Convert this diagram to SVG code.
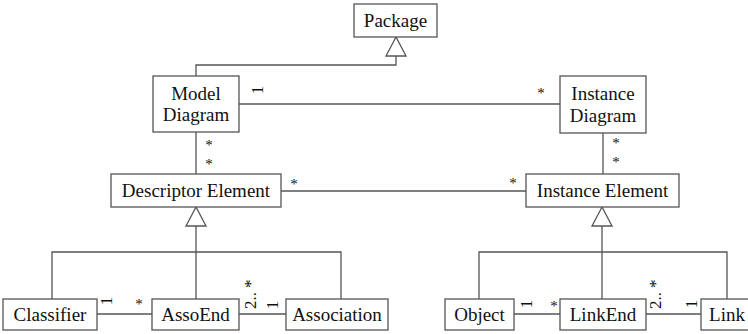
<svg xmlns="http://www.w3.org/2000/svg" width="748" height="334" viewBox="0 0 748 334">
<style>
.box{fill:#fff;stroke:#555;stroke-width:1.3}
.lbl{font-family:"Liberation Serif","Times New Roman",serif;font-size:19px;fill:#111;text-anchor:middle}
.m{font-family:"Liberation Serif","Times New Roman",serif;font-size:15px;fill:#111}
.r{font-size:17px}
.c{text-anchor:middle}
.ln{fill:none;stroke:#555;stroke-width:1.3}
.tri{fill:#fff;stroke:#555;stroke-width:1.3}
</style>
<rect width="748" height="334" fill="#fff"/>
<g id="connectors">
<polyline class="ln" points="196,76 196,65 396,65 396,56"/>
<polygon class="tri" points="396,37 386,56 406,56"/>
<line class="ln" x1="239" y1="104" x2="560" y2="104"/>
<line class="ln" x1="196" y1="132" x2="196" y2="174"/>
<line class="ln" x1="603" y1="133" x2="603" y2="174"/>
<line class="ln" x1="281" y1="191" x2="526" y2="191"/>
<line class="ln" x1="196" y1="226" x2="196" y2="299"/>
<polyline class="ln" points="52,299 52,252 341,252 341,299"/>
<polygon class="tri" points="196,207 186,226 206,226"/>
<line class="ln" x1="602" y1="226" x2="602" y2="299"/>
<polyline class="ln" points="479,299 479,252 727,252 727,299"/>
<polygon class="tri" points="602,207 592,226 612,226"/>
<line class="ln" x1="97" y1="314" x2="152" y2="314"/>
<line class="ln" x1="239" y1="314" x2="286" y2="314"/>
<line class="ln" x1="514" y1="314" x2="560" y2="314"/>
<line class="ln" x1="646" y1="314" x2="701" y2="314"/>
<g class="m">
<text class="c r" transform="translate(263,90) rotate(-90)">1</text>
<text class="c" x="541" y="98">*</text>
<text class="c" x="209" y="150">*</text>
<text class="c" x="209" y="169">*</text>
<text class="c" x="616" y="148">*</text>
<text class="c" x="616" y="167">*</text>
<text class="c" x="294" y="189">*</text>
<text class="c" x="513" y="188">*</text>
<text class="c r" transform="translate(112,301) rotate(-90)">1</text>
<text class="c" x="139" y="309">*</text>
<text class="r" transform="translate(256,309) rotate(-90)">2..<tspan dx="4">*</tspan></text>
<text class="c r" transform="translate(278,305) rotate(-90)">1</text>
<text class="c r" transform="translate(532,304) rotate(-90)">1</text>
<text class="c" x="554" y="311">*</text>
<text class="r" transform="translate(661,309) rotate(-90)">2..<tspan dx="4">*</tspan></text>
<text class="c r" transform="translate(697,304) rotate(-90)">1</text>
</g>
</g>
<g id="package"><rect class="box" x="354" y="4" width="83" height="33"/><text class="lbl" x="395.5" y="27">Package</text></g>
<g id="model-diagram"><rect class="box" x="153" y="76" width="86" height="56"/><text class="lbl" x="196" y="100">Model</text><text class="lbl" x="196" y="121">Diagram</text></g>
<g id="instance-diagram"><rect class="box" x="560" y="76" width="86" height="57"/><text class="lbl" x="603" y="100">Instance</text><text class="lbl" x="603" y="122">Diagram</text></g>
<g id="descriptor-element"><rect class="box" x="111" y="174" width="170" height="33"/><text class="lbl" x="196" y="197">Descriptor Element</text></g>
<g id="instance-element"><rect class="box" x="526" y="174" width="153" height="33"/><text class="lbl" x="602.5" y="197">Instance Element</text></g>
<g id="classifier"><rect class="box" x="3" y="299" width="94" height="31"/><text class="lbl" x="50" y="321">Classifier</text></g>
<g id="assoend"><rect class="box" x="152" y="299" width="87" height="31"/><text class="lbl" x="195.5" y="321">AssoEnd</text></g>
<g id="association"><rect class="box" x="286" y="299" width="102" height="31"/><text class="lbl" x="337" y="321">Association</text></g>
<g id="object"><rect class="box" x="445" y="299" width="69" height="31"/><text class="lbl" x="479.5" y="321">Object</text></g>
<g id="linkend"><rect class="box" x="560" y="299" width="86" height="31"/><text class="lbl" x="603" y="321">LinkEnd</text></g>
<g id="link"><rect class="box" x="701" y="299" width="52" height="31"/><text class="lbl" x="727" y="321">Link</text></g>
</svg>
